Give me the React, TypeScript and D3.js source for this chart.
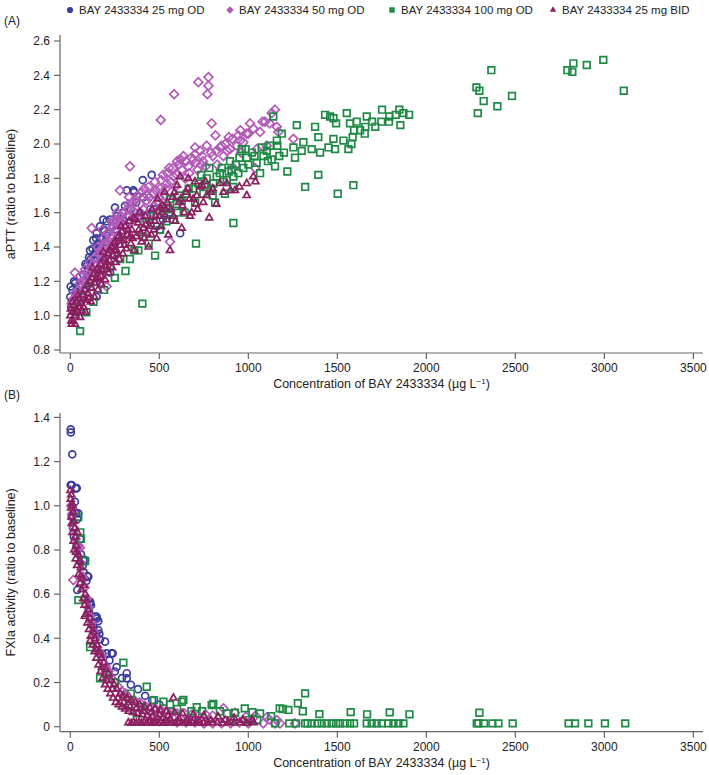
import React from "react";
import * as d3 from "d3";

// ---------- Data (concentration µg/L, ratio to baseline) ----------
const seriesNames = [
  "BAY 2433334 25 mg OD",
  "BAY 2433334 50 mg OD",
  "BAY 2433334 100 mg OD",
  "BAY 2433334 25 mg BID",
];
const seriesColors = ["#3a3c9c", "#b35ab8", "#1f8a45", "#8c1f5f"];

const xTicks = [0, 500, 1000, 1500, 2000, 2500, 3000, 3500];
const yTicksA = [0.8, 1.0, 1.2, 1.4, 1.6, 1.8, 2.0, 2.2, 2.4, 2.6];
const yTickLabelsA = ["0.8", "1.0", "1.2", "1.4", "1.6", "1.8", "2.0", "2.2", "2.4", "2.6"];
const yTicksB = [0, 0.2, 0.4, 0.6, 0.8, 1.0, 1.2, 1.4];
const yTickLabelsB = ["0", "0.2", "0.4", "0.6", "0.8", "1.0", "1.2", "1.4"];

// Panel A: aPTT
const apttOD25: [number, number][] = [
  [0,1.11],[2,1.17],[5,1.05],[8,1.08],[12,1.15],[21,1.20],[26,1.19],[30,1.12],[35,1.02],[40,1.09],
  [45,1.13],[50,1.14],[60,1.18],[60,1.08],[70,1.11],[73,1.24],[80,1.20],[85,1.30],[90,1.16],[92,1.29],
  [100,1.27],[105,1.34],[111,1.38],[115,1.33],[120,1.25],[125,1.39],[129,1.44],[135,1.36],[140,1.30],[145,1.45],
  [148,1.48],[148,1.39],[148,1.11],[155,1.42],[160,1.35],[165,1.40],[167,1.52],[167,1.19],[175,1.45],[180,1.31],
  [185,1.56],[190,1.50],[195,1.43],[200,1.47],[204,1.55],[210,1.48],[223,1.56],[223,1.25],[230,1.40],[240,1.52],
  [250,1.35],[251,1.63],[260,1.58],[260,1.50],[270,1.47],[280,1.55],[295,1.60],[300,1.55],[307,1.64],[317,1.73],
  [330,1.58],[340,1.62],[354,1.73],[358,1.72],[370,1.66],[390,1.60],[395,1.58],[407,1.79],[410,1.69],[430,1.58],
  [448,1.62],[457,1.82],[470,1.62],[485,1.52],[504,1.50],[520,1.56],[560,1.60],[617,1.48],
];
const apttOD50: [number, number][] = [
  [8,1.07],[15,1.04],[20,1.10],[26,1.13],[26,1.25],[35,1.08],[40,1.12],[45,1.15],[54,1.23],[55,1.19],
  [60,1.12],[65,1.17],[70,1.20],[83,1.27],[90,1.22],[95,1.25],[100,1.18],[111,1.31],[120,1.51],[125,1.26],
  [130,1.30],[139,1.34],[145,1.29],[155,1.40],[160,1.36],[167,1.38],[175,1.33],[185,1.45],[190,1.40],[195,1.42],
  [200,1.36],[204,1.17],[215,1.48],[220,1.43],[223,1.46],[230,1.41],[240,1.52],[250,1.55],[251,1.50],[260,1.45],
  [270,1.56],[279,1.54],[279,1.73],[285,1.58],[290,1.48],[300,1.60],[310,1.53],[317,1.58],[320,1.62],[325,1.65],
  [335,1.87],[340,1.55],[350,1.66],[354,1.61],[365,1.68],[375,1.57],[380,1.70],[392,1.65],[400,1.72],[410,1.62],
  [415,1.74],[429,1.67],[440,1.75],[445,1.69],[450,1.60],[466,1.71],[475,1.78],[480,1.73],[490,1.66],[504,1.74],
  [508,2.14],[510,1.79],[520,1.82],[530,1.70],[542,1.77],[545,1.83],[555,1.86],[560,1.43],[575,1.86],[579,1.81],
  [583,2.29],[590,1.75],[600,1.90],[610,1.88],[626,1.85],[635,1.93],[645,1.80],[650,1.90],[663,1.87],[680,1.92],
  [691,1.91],[700,1.94],[701,1.98],[715,1.85],[719,2.36],[729,1.96],[740,1.93],[745,1.90],[760,1.87],[766,1.99],
  [770,2.29],[776,2.39],[776,2.34],[794,2.12],[800,1.93],[815,2.05],[820,1.96],[825,1.88],[841,1.98],[860,1.93],
  [870,2.00],[880,1.96],[897,1.97],[910,2.03],[916,1.86],[935,1.99],[944,2.05],[953,2.02],[955,2.08],[960,1.95],
  [972,2.01],[991,2.06],[1000,2.06],[1010,2.12],[1028,2.09],[1038,1.86],[1047,1.97],[1066,2.07],[1080,2.13],[1094,2.13],
  [1103,1.99],[1120,2.12],[1131,2.18],[1150,2.20],[1160,2.10],[1169,2.07],[1253,2.03],
  [180,1.50],[235,1.55],[262,1.60],[298,1.52],[330,1.69],[362,1.60],[398,1.57],[432,1.70],[470,1.64],[500,1.69],
  [536,1.74],[566,1.78],[598,1.82],[620,1.91],[668,1.83],[705,1.89],[735,1.88],[790,1.95],[850,1.99],[890,2.04],
];
const apttOD100: [number, number][] = [
  [45,1.05],[55,0.91],[73,1.11],[90,1.02],[111,1.17],[130,1.08],[167,1.23],[190,1.15],[223,1.29],[250,1.22],
  [280,1.33],[310,1.26],[335,1.33],[360,1.38],[382,1.38],[405,1.07],[410,1.46],[429,1.54],[440,1.42],[466,1.58],
  [476,1.35],[504,1.50],[520,1.62],[540,1.55],[551,1.62],[560,1.68],[579,1.56],[598,1.65],[610,1.70],[626,1.67],
  [644,1.60],[654,1.71],[665,1.74],[701,1.66],[706,1.42],[720,1.77],[747,1.71],[766,1.80],[781,1.86],[790,1.74],
  [800,1.70],[803,1.77],[813,1.66],[822,1.81],[840,1.83],[851,1.86],[869,1.71],[879,1.79],[890,1.84],[897,1.90],
  [916,1.81],[916,1.75],[916,1.54],[930,1.88],[944,1.83],[950,1.92],[963,1.97],[972,1.86],[991,1.92],[1000,1.88],
  [1020,1.95],[1047,1.89],[1066,1.83],[1085,1.93],[1103,1.96],[1122,1.99],[1131,1.91],[1140,2.16],[1150,1.87],[1160,2.02],
  [1163,1.99],[1174,1.93],[1188,2.06],[1200,1.95],[1219,1.84],[1253,1.98],[1262,1.92],[1272,2.11],[1300,1.96],[1309,2.01],
  [1319,1.75],[1356,1.97],[1375,2.10],[1393,2.04],[1393,1.82],[1403,1.95],[1431,2.17],[1450,1.98],[1459,2.16],[1478,2.15],
  [1478,2.03],[1487,1.97],[1493,2.12],[1502,1.71],[1534,2.02],[1553,2.18],[1562,1.97],[1571,2.12],[1579,2.00],[1586,2.04],
  [1590,1.76],[1594,2.08],[1609,2.13],[1628,2.08],[1654,2.06],[1657,2.10],[1665,2.16],[1695,2.13],[1713,2.10],[1747,2.13],
  [1751,2.20],[1790,2.13],[1792,2.16],[1828,2.17],[1848,2.20],[1854,2.11],[1871,2.18],[1903,2.17],[2281,2.33],[2289,2.18],
  [2298,2.31],[2322,2.25],[2365,2.43],[2399,2.22],[2481,2.28],[2792,2.43],[2820,2.42],[2826,2.47],[2901,2.46],[2994,2.49],
  [3109,2.31],
  [600,1.60],[690,1.74],[735,1.82],[760,1.76],[860,1.78],[905,1.85],[985,1.97],[1035,1.93],[1075,1.98],[1110,1.90],
];
const apttBID25: [number, number][] = [
  [0,1.00],[3,1.04],[5,0.97],[8,0.95],[10,1.02],[15,0.97],[20,1.06],[25,1.02],[26,0.95],[30,1.00],
  [35,1.08],[40,1.03],[45,1.05],[50,1.10],[55,0.99],[60,1.07],[65,1.03],[70,1.12],[75,1.05],[80,1.15],
  [90,1.09],[95,1.18],[100,1.13],[105,1.10],[110,1.20],[115,1.08],[120,1.16],[125,1.28],[130,1.24],[135,1.11],
  [140,1.19],[145,1.21],[150,1.27],[155,1.15],[160,1.22],[165,1.26],[170,1.30],[175,1.18],[180,1.26],[185,1.37],
  [190,1.33],[195,1.21],[200,1.29],[205,1.31],[210,1.36],[215,1.25],[220,1.32],[225,1.38],[230,1.40],[235,1.28],
  [240,1.35],[245,1.42],[250,1.43],[255,1.31],[260,1.38],[265,1.36],[270,1.46],[275,1.33],[280,1.41],[285,1.52],
  [290,1.49],[295,1.36],[300,1.44],[305,1.41],[310,1.52],[315,1.39],[320,1.47],[325,1.50],[330,1.55],[340,1.42],
  [345,1.50],[350,1.45],[355,1.57],[360,1.38],[365,1.56],[370,1.46],[380,1.54],[390,1.60],[395,1.48],[400,1.43],
  [410,1.51],[420,1.58],[425,1.53],[430,1.48],[440,1.40],[450,1.55],[455,1.47],[460,1.62],[470,1.50],[480,1.58],
  [485,1.45],[490,1.68],[500,1.58],[510,1.52],[515,1.60],[520,1.64],[530,1.72],[535,1.62],[542,1.56],[550,1.47],
  [560,1.38],[565,1.62],[575,1.69],[580,1.58],[590,1.55],[600,1.76],[610,1.66],[617,1.81],[620,1.68],[626,1.51],
  [640,1.60],[650,1.72],[660,1.74],[663,1.80],[672,1.58],[681,1.60],[690,1.68],[700,1.78],[710,1.70],[715,1.62],
  [729,1.75],[740,1.76],[747,1.66],[766,1.70],[780,1.57],[790,1.72],[800,1.74],[820,1.65],[841,1.77],[860,1.72],
  [879,1.77],[900,1.73],[925,1.73],[950,1.75],[991,1.77],[991,1.70],[1028,1.81],[1040,1.78],
  [12,1.08],[42,1.12],[85,1.02],[118,1.22],[172,1.23],[208,1.27],[248,1.38],[282,1.45],[335,1.46],[385,1.50],
  [415,1.45],[445,1.52],[475,1.55],[505,1.63],[545,1.66],[585,1.72],[630,1.64],[670,1.68],[705,1.65],[760,1.78],
];

// Panel B: FXIa activity
const fxiaOD25: [number, number][] = [
  [2,1.346],[3,1.332],[11,1.233],[2,1.094],[8,1.094],[30,1.079],[36,1.08],[26,1.018],[8,0.95],[15,0.90],
  [32,0.966],[45,0.966],[40,0.94],[20,0.86],[35,0.82],[55,0.85],[60,0.78],[73,0.754],[83,0.754],[70,0.73],
  [75,0.70],[101,0.679],[96,0.682],[90,0.66],[39,0.619],[111,0.566],[111,0.558],[116,0.55],[105,0.52],[139,0.498],
  [148,0.498],[150,0.49],[157,0.478],[157,0.437],[163,0.42],[130,0.45],[145,0.42],[167,0.395],[195,0.385],[204,0.332],
  [232,0.332],[238,0.332],[180,0.33],[220,0.30],[250,0.25],[260,0.27],[317,0.242],[317,0.219],[290,0.22],[340,0.19],
  [380,0.17],[420,0.14],[460,0.12],[500,0.10],
];
const fxiaOD50: [number, number][] = [
  [5,1.0],[10,0.96],[17,0.97],[20,0.90],[30,0.85],[40,0.81],[45,0.82],[54,0.81],[17,0.664],[60,0.74],
  [70,0.68],[80,0.63],[90,0.58],[100,0.54],[110,0.50],[120,0.47],[130,0.43],[140,0.40],[150,0.36],[160,0.34],
  [175,0.32],[185,0.29],[200,0.27],[215,0.25],[230,0.22],[250,0.20],[270,0.18],[290,0.16],[310,0.15],[330,0.13],
  [360,0.12],[390,0.11],[420,0.095],[450,0.09],[480,0.08],[510,0.075],[540,0.07],[570,0.065],[600,0.06],[640,0.06],
  [680,0.055],[720,0.05],[760,0.055],[800,0.05],[860,0.083],[925,0.063],[987,0.045],[1040,0.05],[1103,0.042],[1118,0.033],
  [1160,0.03],[450,0.03],[500,0.025],[600,0.02],[650,0.02],[700,0.02],[750,0.015],[800,0.015],[850,0.015],[900,0.015],
  [950,0.02],[1000,0.015],[1084,0.015],[1150,0.015],[1178,0.015],[1262,0.015],
];
const fxiaOD100: [number, number][] = [
  [45,0.95],[56,0.88],[60,0.85],[83,0.75],[45,0.573],[111,0.36],[167,0.219],[200,0.24],[250,0.20],[298,0.29],
  [330,0.10],[340,0.15],[373,0.06],[400,0.09],[429,0.181],[470,0.12],[523,0.113],[560,0.10],[600,0.08],[626,0.113],
  [635,0.121],[680,0.07],[710,0.088],[740,0.07],[794,0.098],[803,0.103],[840,0.07],[880,0.06],[900,0.03],[925,0.063],
  [980,0.083],[1000,0.03],[1023,0.066],[1050,0.03],[1066,0.06],[1128,0.048],[1176,0.083],[1193,0.08],[1225,0.076],[1278,0.106],
  [1306,0.07],[1319,0.151],[1399,0.057],[1575,0.066],[1667,0.056],[1794,0.065],[1905,0.056],[2298,0.063],
  [1150,0.015],[1230,0.015],[1268,0.015],[1319,0.015],[1333,0.015],[1356,0.015],[1388,0.015],[1412,0.015],[1440,0.015],[1468,0.015],
  [1493,0.015],[1515,0.015],[1543,0.015],[1571,0.015],[1594,0.015],[1665,0.015],[1693,0.015],[1721,0.015],[1749,0.015],[1787,0.015],
  [1815,0.015],[1843,0.015],[1871,0.015],[2283,0.015],[2292,0.015],[2324,0.015],[2371,0.015],[2405,0.015],[2485,0.015],[2799,0.015],
  [2835,0.015],[2910,0.015],[3003,0.015],[3117,0.015],
];
const fxiaBID25: [number, number][] = [
  [0,1.07],[2,1.03],[4,0.99],[5,1.05],[6,0.95],[8,0.92],[10,1.01],[12,0.88],[15,0.97],[18,0.84],
  [20,0.93],[22,0.80],[26,0.90],[28,0.86],[30,0.76],[34,0.82],[38,0.73],[40,0.88],[45,0.78],[48,0.69],
  [52,0.75],[55,0.65],[60,0.72],[63,0.62],[68,0.67],[72,0.58],[76,0.64],[80,0.55],[85,0.60],[88,0.51],
  [92,0.57],[96,0.47],[100,0.53],[105,0.44],[110,0.49],[115,0.41],[120,0.46],[126,0.37],[130,0.43],[136,0.34],
  [140,0.40],[146,0.31],[150,0.37],[158,0.28],[163,0.34],[170,0.25],[175,0.31],[182,0.22],[188,0.29],[195,0.19],
  [200,0.26],[210,0.17],[215,0.24],[225,0.15],[230,0.21],[240,0.13],[246,0.19],[255,0.11],[262,0.17],[272,0.10],
  [280,0.15],[290,0.09],[298,0.14],[308,0.08],[318,0.13],[328,0.07],[340,0.12],[352,0.065],[365,0.11],[378,0.06],
  [390,0.10],[405,0.055],[418,0.09],[432,0.05],[448,0.085],[460,0.045],[475,0.08],[490,0.04],[505,0.075],[520,0.04],
  [540,0.07],[560,0.035],[579,0.13],[585,0.065],[610,0.035],[630,0.06],[660,0.03],[690,0.055],[720,0.03],[750,0.05],
  [790,0.03],[830,0.045],[870,0.03],[920,0.04],[970,0.03],[1020,0.03],
  [326,0.018],[342,0.016],[356,0.02],[371,0.017],[386,0.019],[400,0.016],[414,0.02],[430,0.017],[445,0.019],[460,0.016],
  [476,0.02],[492,0.017],[508,0.019],[524,0.016],[540,0.02],[556,0.017],[572,0.019],[590,0.016],[608,0.02],[626,0.017],
  [645,0.019],[664,0.016],[684,0.02],[704,0.017],[725,0.019],[748,0.016],[772,0.02],[798,0.017],[826,0.019],[856,0.016],
  [888,0.02],[920,0.017],[954,0.019],[990,0.016],[1030,0.018],
  [14,1.00],[32,0.79],[58,0.68],[82,0.50],[112,0.39],[144,0.35],[178,0.27],[205,0.21],[236,0.17],[268,0.13],
  [300,0.11],[335,0.09],[372,0.085],[410,0.07],[455,0.065],[500,0.055],[548,0.05],
];

const panelA = [apttOD25, apttOD50, apttOD100, apttBID25];
const panelB = [fxiaOD25, fxiaOD50, fxiaOD100, fxiaBID25];

// ---------- Layout ----------
const W = 709;
const H = 775;
const X0 = 60;
const X1 = 703;
const FONT = "'Liberation Sans', Arial, Helvetica, sans-serif";
const AXIS_COLOR = "#666";
const TEXT_COLOR = "#222";

const xScale = d3.scaleLinear().domain([-58, 3554]).range([X0, X1]);
const yA = d3.scaleLinear().domain([0.7825, 2.635]).range([353, 35]);
const yB = d3.scaleLinear().domain([-0.0226, 1.42]).range([731.7, 413]);

const symbols = [
  d3.symbol().type(d3.symbolCircle).size(38)(),
  d3.symbol().type(d3.symbolDiamond2).size(50)(),
  d3.symbol().type(d3.symbolSquare).size(44)(),
  d3.symbol().type(d3.symbolTriangle2).size(34)(),
];
const legendSymbols = [
  d3.symbol().type(d3.symbolCircle).size(30)(),
  d3.symbol().type(d3.symbolDiamond2).size(36)(),
  d3.symbol().type(d3.symbolSquare).size(30)(),
  d3.symbol().type(d3.symbolTriangle2).size(30)(),
];
const drawOrder = [0, 1, 2, 3];

function Panel({
  data,
  y,
  yTicks,
  yLabels,
  yTitle,
}: {
  data: [number, number][][];
  y: d3.ScaleLinear<number, number>;
  yTicks: number[];
  yLabels: string[];
  yTitle: string;
}) {
  const [yBottom, yTop] = y.range();
  const xTitleY = yBottom + 35;
  return (
    <g>
      {drawOrder.map((si) => (
        <g key={si}>
          {data[si].map(([c, v], i) => (
            <path
              key={i}
              d={symbols[si] as string}
              transform={`translate(${xScale(c)},${y(v)})`}
              fill="none"
              stroke={seriesColors[si]}
              strokeWidth={1.7}
            />
          ))}
        </g>
      ))}
      <line x1={X0} x2={X0} y1={yTop} y2={yBottom} stroke={AXIS_COLOR} strokeWidth={1.2} />
      {yTicks.map((t, i) => (
        <g key={t}>
          <line x1={X0 - 6} x2={X0} y1={y(t)} y2={y(t)} stroke={AXIS_COLOR} strokeWidth={1.2} />
          <text x={X0 - 10} y={y(t)} dy="0.35em" textAnchor="end" fontSize={12} fontFamily={FONT} fill={TEXT_COLOR}>
            {yLabels[i]}
          </text>
        </g>
      ))}
      <line x1={X0} x2={X1} y1={yBottom} y2={yBottom} stroke={AXIS_COLOR} strokeWidth={1.2} />
      {xTicks.map((t) => (
        <g key={t}>
          <line x1={xScale(t)} x2={xScale(t)} y1={yBottom} y2={yBottom + 6} stroke={AXIS_COLOR} strokeWidth={1.2} />
          <text x={xScale(t)} y={yBottom + 19} textAnchor="middle" fontSize={12} fontFamily={FONT} fill={TEXT_COLOR}>
            {t}
          </text>
        </g>
      ))}
      <text x={(X0 + X1) / 2} y={xTitleY} textAnchor="middle" fontSize={12.5} fontFamily={FONT} fill={TEXT_COLOR}>
        Concentration of BAY 2433334 (µg L
        <tspan dy={-4} fontSize={8}>
          −1
        </tspan>
        <tspan dy={4}>)</tspan>
      </text>
      <text
        transform={`translate(15,${(yTop + yBottom) / 2}) rotate(-90)`}
        textAnchor="middle"
        fontSize={12.5}
        fontFamily={FONT}
        fill={TEXT_COLOR}
      >
        {yTitle}
      </text>
    </g>
  );
}

const legendX = [70, 230, 392, 553];

export default function App() {
  return (
    <svg
      width={W}
      height={H}
      viewBox={`0 0 ${W} ${H}`}
      style={{ position: "absolute", left: 0, top: 0, background: "#fff" }}
    >
      <rect x={0} y={0} width={W} height={H} fill="#fff" />
      {seriesNames.map((name, i) => (
        <g key={name} transform={`translate(${legendX[i]},10)`}>
          <path d={legendSymbols[i] as string} fill={seriesColors[i]} />
          <text x={9} y={0} dy="0.35em" fontSize={11.5} fontFamily={FONT} fill={TEXT_COLOR}>
            {name}
          </text>
        </g>
      ))}
      <text x={4} y={21} dy="0.35em" fontSize={12} fontFamily={FONT} fill={TEXT_COLOR}>
        (A)
      </text>
      <text x={4} y={395} dy="0.35em" fontSize={12} fontFamily={FONT} fill={TEXT_COLOR}>
        (B)
      </text>
      <Panel data={panelA} y={yA} yTicks={yTicksA} yLabels={yTickLabelsA} yTitle="aPTT (ratio to baseline)" />
      <Panel data={panelB} y={yB} yTicks={yTicksB} yLabels={yTickLabelsB} yTitle="FXIa activity (ratio to baseline)" />
    </svg>
  );
}
